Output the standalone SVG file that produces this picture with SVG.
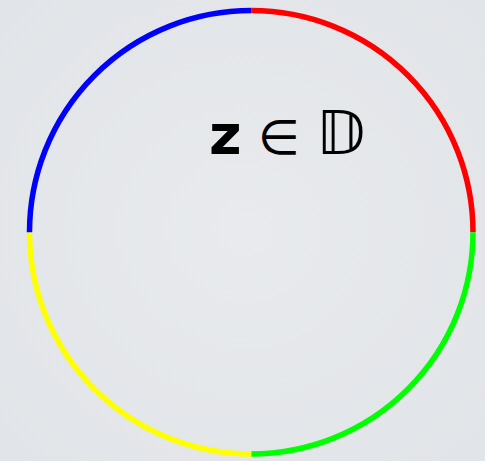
<svg xmlns="http://www.w3.org/2000/svg" width="485" height="461" viewBox="0 0 485 461">
<defs>
<radialGradient id="bg" cx="0.5" cy="0.5" r="0.7">
<stop offset="0" stop-color="#e8eaed"/>
<stop offset="1" stop-color="#e1e4e8"/>
</radialGradient>
<style>
.arc{fill:none;stroke-width:5.5}
.t{fill:#000}
</style>
</defs>
<rect width="485" height="461" fill="url(#bg)"/>
<g id="connectors">
<path class="arc" stroke="#ff0000" d="M251.25 10.5 A221.75 221.75 0 0 1 473 232.25"/>
<path class="arc" stroke="#00ff00" d="M473 232.25 A221.75 221.75 0 0 1 251.25 454"/>
<path class="arc" stroke="#ffff00" d="M251.25 454 A221.75 221.75 0 0 1 29.5 232.25"/>
<path class="arc" stroke="#0000ff" d="M29.5 232.25 A221.75 221.75 0 0 1 251.25 10.5"/>
</g>
<g id="label">
<text class="t" x="209" y="154" font-family="DejaVu Sans" font-weight="bold" font-size="56">z</text>
<text class="t" x="258" y="154" font-family="DejaVu Sans" font-size="48">∈</text>
<text class="t" x="316" y="154" font-family="DejaVu Sans, DejaVu Serif, serif" font-size="60">𝔻</text>
</g>
</svg>
